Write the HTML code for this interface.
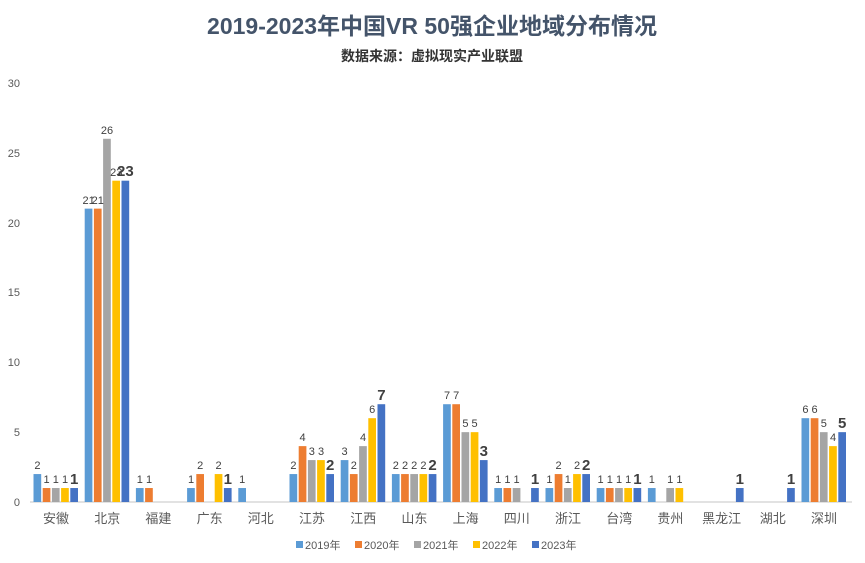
<!DOCTYPE html>
<html><head><meta charset="utf-8"><style>
body{margin:0;background:#fff;}
svg text{font-family:"Liberation Sans","Noto Sans CJK SC",sans-serif;}
</style></head><body>
<svg width="865" height="558" viewBox="0 0 865 558" xmlns="http://www.w3.org/2000/svg">
<rect width="865" height="558" fill="#fff"/>
<text x="432" y="34" text-anchor="middle" font-size="23" font-weight="bold" fill="#44546a">2019-2023年中国VR 50强企业地域分布情况</text>
<text x="432" y="61" text-anchor="middle" font-size="14" font-weight="bold" fill="#333">数据来源：虚拟现实产业联盟</text>
<g font-size="11" fill="#595959" text-anchor="end">
<text x="20" y="87">30</text><text x="20" y="157">25</text><text x="20" y="227">20</text><text x="20" y="296">15</text><text x="20" y="366">10</text><text x="20" y="436">5</text><text x="20" y="506">0</text>
</g>
<line x1="30" y1="502" x2="852" y2="502" stroke="#d9d9d9" stroke-width="1.5"/>
<defs>
<g id="b"></g>
</defs>
<!-- bars: groups translate(c,502) scale(1,-13.97) -->
<g>
<g transform="translate(56,502) scale(1,-13.97)">
<rect x="-22.5" y="0" width="7.7" height="2" fill="#5b9bd5"/><rect x="-13.3" y="0" width="7.7" height="1" fill="#ed7d31"/><rect x="-4.1" y="0" width="7.7" height="1" fill="#a5a5a5"/><rect x="5.1" y="0" width="7.7" height="1" fill="#ffc000"/><rect x="14.3" y="0" width="7.7" height="1" fill="#4472c4"/></g>
<g transform="translate(107.2,502) scale(1,-13.97)">
<rect x="-22.5" y="0" width="7.7" height="21" fill="#5b9bd5"/><rect x="-13.3" y="0" width="7.7" height="21" fill="#ed7d31"/><rect x="-4.1" y="0" width="7.7" height="26" fill="#a5a5a5"/><rect x="5.1" y="0" width="7.7" height="23" fill="#ffc000"/><rect x="14.3" y="0" width="7.7" height="23" fill="#4472c4"/></g>
<g transform="translate(158.4,502) scale(1,-13.97)">
<rect x="-22.5" y="0" width="7.7" height="1" fill="#5b9bd5"/><rect x="-13.3" y="0" width="7.7" height="1" fill="#ed7d31"/></g>
<g transform="translate(209.6,502) scale(1,-13.97)">
<rect x="-22.5" y="0" width="7.7" height="1" fill="#5b9bd5"/><rect x="-13.3" y="0" width="7.7" height="2" fill="#ed7d31"/><rect x="5.1" y="0" width="7.7" height="2" fill="#ffc000"/><rect x="14.3" y="0" width="7.7" height="1" fill="#4472c4"/></g>
<g transform="translate(260.8,502) scale(1,-13.97)">
<rect x="-22.5" y="0" width="7.7" height="1" fill="#5b9bd5"/></g>
<g transform="translate(312,502) scale(1,-13.97)">
<rect x="-22.5" y="0" width="7.7" height="2" fill="#5b9bd5"/><rect x="-13.3" y="0" width="7.7" height="4" fill="#ed7d31"/><rect x="-4.1" y="0" width="7.7" height="3" fill="#a5a5a5"/><rect x="5.1" y="0" width="7.7" height="3" fill="#ffc000"/><rect x="14.3" y="0" width="7.7" height="2" fill="#4472c4"/></g>
<g transform="translate(363.2,502) scale(1,-13.97)">
<rect x="-22.5" y="0" width="7.7" height="3" fill="#5b9bd5"/><rect x="-13.3" y="0" width="7.7" height="2" fill="#ed7d31"/><rect x="-4.1" y="0" width="7.7" height="4" fill="#a5a5a5"/><rect x="5.1" y="0" width="7.7" height="6" fill="#ffc000"/><rect x="14.3" y="0" width="7.7" height="7" fill="#4472c4"/></g>
<g transform="translate(414.4,502) scale(1,-13.97)">
<rect x="-22.5" y="0" width="7.7" height="2" fill="#5b9bd5"/><rect x="-13.3" y="0" width="7.7" height="2" fill="#ed7d31"/><rect x="-4.1" y="0" width="7.7" height="2" fill="#a5a5a5"/><rect x="5.1" y="0" width="7.7" height="2" fill="#ffc000"/><rect x="14.3" y="0" width="7.7" height="2" fill="#4472c4"/></g>
<g transform="translate(465.6,502) scale(1,-13.97)">
<rect x="-22.5" y="0" width="7.7" height="7" fill="#5b9bd5"/><rect x="-13.3" y="0" width="7.7" height="7" fill="#ed7d31"/><rect x="-4.1" y="0" width="7.7" height="5" fill="#a5a5a5"/><rect x="5.1" y="0" width="7.7" height="5" fill="#ffc000"/><rect x="14.3" y="0" width="7.7" height="3" fill="#4472c4"/></g>
<g transform="translate(516.8,502) scale(1,-13.97)">
<rect x="-22.5" y="0" width="7.7" height="1" fill="#5b9bd5"/><rect x="-13.3" y="0" width="7.7" height="1" fill="#ed7d31"/><rect x="-4.1" y="0" width="7.7" height="1" fill="#a5a5a5"/><rect x="14.3" y="0" width="7.7" height="1" fill="#4472c4"/></g>
<g transform="translate(568,502) scale(1,-13.97)">
<rect x="-22.5" y="0" width="7.7" height="1" fill="#5b9bd5"/><rect x="-13.3" y="0" width="7.7" height="2" fill="#ed7d31"/><rect x="-4.1" y="0" width="7.7" height="1" fill="#a5a5a5"/><rect x="5.1" y="0" width="7.7" height="2" fill="#ffc000"/><rect x="14.3" y="0" width="7.7" height="2" fill="#4472c4"/></g>
<g transform="translate(619.2,502) scale(1,-13.97)">
<rect x="-22.5" y="0" width="7.7" height="1" fill="#5b9bd5"/><rect x="-13.3" y="0" width="7.7" height="1" fill="#ed7d31"/><rect x="-4.1" y="0" width="7.7" height="1" fill="#a5a5a5"/><rect x="5.1" y="0" width="7.7" height="1" fill="#ffc000"/><rect x="14.3" y="0" width="7.7" height="1" fill="#4472c4"/></g>
<g transform="translate(670.4,502) scale(1,-13.97)">
<rect x="-22.5" y="0" width="7.7" height="1" fill="#5b9bd5"/><rect x="-4.1" y="0" width="7.7" height="1" fill="#a5a5a5"/><rect x="5.1" y="0" width="7.7" height="1" fill="#ffc000"/></g>
<g transform="translate(721.6,502) scale(1,-13.97)">
<rect x="14.3" y="0" width="7.7" height="1" fill="#4472c4"/></g>
<g transform="translate(772.8,502) scale(1,-13.97)">
<rect x="14.3" y="0" width="7.7" height="1" fill="#4472c4"/></g>
<g transform="translate(824,502) scale(1,-13.97)">
<rect x="-22.5" y="0" width="7.7" height="6" fill="#5b9bd5"/><rect x="-13.3" y="0" width="7.7" height="6" fill="#ed7d31"/><rect x="-4.1" y="0" width="7.7" height="5" fill="#a5a5a5"/><rect x="5.1" y="0" width="7.7" height="4" fill="#ffc000"/><rect x="14.3" y="0" width="7.7" height="5" fill="#4472c4"/></g>
</g>
<!-- value labels -->
<g font-size="11" fill="#404040" text-anchor="middle">
<g transform="translate(56,0)"><text x="-18.6" y="469">2</text><text x="-9.4" y="483">1</text><text x="-0.2" y="483">1</text><text x="9" y="483">1</text></g>
<g transform="translate(107.2,0)"><text x="-18.6" y="204">21</text><text x="-9.4" y="204">21</text><text x="-0.2" y="134">26</text><text x="9" y="176">23</text></g>
<g transform="translate(158.4,0)"><text x="-18.6" y="483">1</text><text x="-9.4" y="483">1</text></g>
<g transform="translate(209.6,0)"><text x="-18.6" y="483">1</text><text x="-9.4" y="469">2</text><text x="9" y="469">2</text></g>
<g transform="translate(260.8,0)"><text x="-18.6" y="483">1</text></g>
<g transform="translate(312,0)"><text x="-18.6" y="469">2</text><text x="-9.4" y="441">4</text><text x="-0.2" y="455">3</text><text x="9" y="455">3</text></g>
<g transform="translate(363.2,0)"><text x="-18.6" y="455">3</text><text x="-9.4" y="469">2</text><text x="-0.2" y="441">4</text><text x="9" y="413">6</text></g>
<g transform="translate(414.4,0)"><text x="-18.6" y="469">2</text><text x="-9.4" y="469">2</text><text x="-0.2" y="469">2</text><text x="9" y="469">2</text></g>
<g transform="translate(465.6,0)"><text x="-18.6" y="399">7</text><text x="-9.4" y="399">7</text><text x="-0.2" y="427">5</text><text x="9" y="427">5</text></g>
<g transform="translate(516.8,0)"><text x="-18.6" y="483">1</text><text x="-9.4" y="483">1</text><text x="-0.2" y="483">1</text></g>
<g transform="translate(568,0)"><text x="-18.6" y="483">1</text><text x="-9.4" y="469">2</text><text x="-0.2" y="483">1</text><text x="9" y="469">2</text></g>
<g transform="translate(619.2,0)"><text x="-18.6" y="483">1</text><text x="-9.4" y="483">1</text><text x="-0.2" y="483">1</text><text x="9" y="483">1</text></g>
<g transform="translate(670.4,0)"><text x="-18.6" y="483">1</text><text x="-0.2" y="483">1</text><text x="9" y="483">1</text></g>
<g transform="translate(824,0)"><text x="-18.6" y="413">6</text><text x="-9.4" y="413">6</text><text x="-0.2" y="427">5</text><text x="9" y="441">4</text></g>
</g>
<g font-size="15" font-weight="bold" fill="#404040" text-anchor="middle">
<text x="74.2" y="484">1</text><text x="125.4" y="176">23</text><text x="227.8" y="484">1</text><text x="330.2" y="470">2</text><text x="381.4" y="400">7</text><text x="432.6" y="470">2</text><text x="483.8" y="456">3</text><text x="535" y="484">1</text><text x="586.2" y="470">2</text><text x="637.4" y="484">1</text><text x="739.8" y="484">1</text><text x="791" y="484">1</text><text x="842.2" y="428">5</text>
</g>
<g font-size="13" fill="#595959" text-anchor="middle">
<text x="56" y="523">安徽</text><text x="107.2" y="523">北京</text><text x="158.4" y="523">福建</text><text x="209.6" y="523">广东</text><text x="260.8" y="523">河北</text><text x="312" y="523">江苏</text><text x="363.2" y="523">江西</text><text x="414.4" y="523">山东</text><text x="465.6" y="523">上海</text><text x="516.8" y="523">四川</text><text x="568" y="523">浙江</text><text x="619.2" y="523">台湾</text><text x="670.4" y="523">贵州</text><text x="721.6" y="523">黑龙江</text><text x="772.8" y="523">湖北</text><text x="824" y="523">深圳</text>
</g>
<g font-size="11" fill="#595959">
<rect x="296" y="541" width="7" height="7" fill="#5b9bd5"/><text x="305" y="549">2019年</text>
<rect x="355" y="541" width="7" height="7" fill="#ed7d31"/><text x="364" y="549">2020年</text>
<rect x="414" y="541" width="7" height="7" fill="#a5a5a5"/><text x="423" y="549">2021年</text>
<rect x="473" y="541" width="7" height="7" fill="#ffc000"/><text x="482" y="549">2022年</text>
<rect x="532" y="541" width="7" height="7" fill="#4472c4"/><text x="541" y="549">2023年</text>
</g>
</svg>
</body></html>
